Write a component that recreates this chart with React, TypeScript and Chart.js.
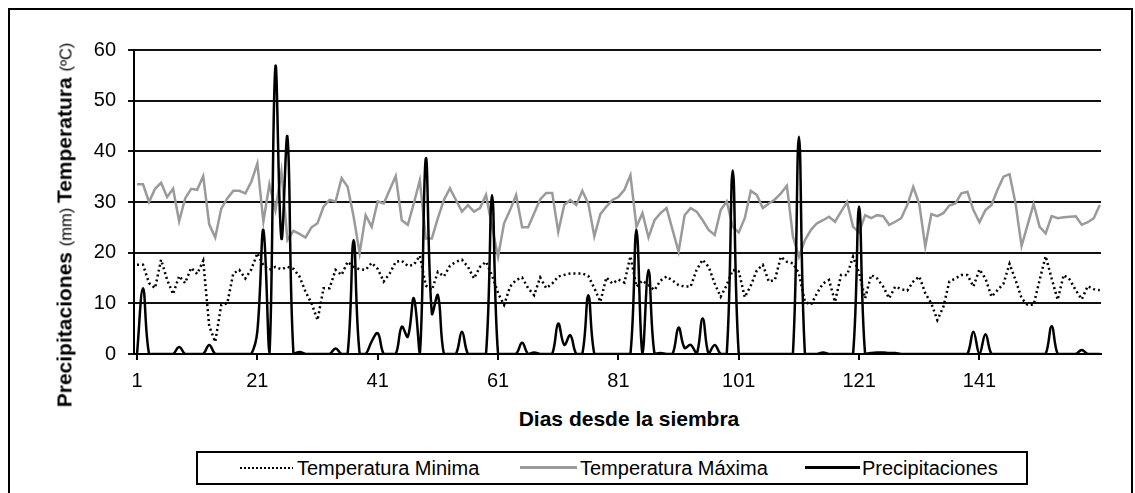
import React, { useEffect, useRef } from 'react';
import { Chart, registerables } from 'chart.js';

Chart.register(...registerables);

const FONT = '"Liberation Sans", Arial, Helvetica, sans-serif';

// Days since sowing (x categories)
const days: number[] = Array.from({ length: 161 }, (_, i) => i + 1);
const xTickValues: number[] = [1, 21, 41, 61, 81, 101, 121, 141];
const yTickValues: number[] = [0, 10, 20, 30, 40, 50, 60];

const tempMin: number[] = [
  17.6, 17.6, 14.0, 13.0, 18.6, 14.7, 11.8, 15.4, 14.0, 17.0,
  15.8, 18.4, 5.5, 2.4, 9.7, 10.0, 15.9, 16.6, 14.9, 16.7,
  19.9, 17.5, 16.6, 17.2, 16.7, 17.2, 16.8, 15.3, 12.3, 10.0,
  6.7, 13.0, 13.0, 16.6, 15.6, 18.2, 17.2, 16.7, 16.6, 18.0,
  16.8, 14.3, 15.9, 18.2, 18.4, 17.4, 17.6, 19.4, 13.5, 12.6,
  16.2, 15.3, 17.4, 18.2, 18.6, 17.2, 14.9, 17.2, 18.2, 15.5,
  12.0, 9.7, 13.3, 14.6, 15.1, 13.0, 11.6, 15.1, 13.0, 13.9,
  15.3, 15.6, 15.9, 15.9, 15.9, 15.4, 13.0, 10.3, 15.1, 13.9,
  14.7, 14.1, 19.3, 13.3, 14.5, 13.6, 12.6, 14.5, 15.3, 14.5,
  13.6, 13.3, 13.3, 16.6, 18.6, 17.2, 13.9, 11.3, 13.6, 16.6,
  16.3, 11.2, 13.5, 16.5, 17.6, 14.3, 14.6, 19.2, 18.2, 17.9,
  15.9, 10.3, 9.7, 12.0, 13.9, 14.6, 10.3, 15.6, 15.6, 19.2,
  16.0, 11.0, 15.6, 14.9, 13.3, 11.0, 13.3, 12.8, 12.5, 14.3,
  15.3, 12.0, 10.0, 6.7, 9.3, 14.3, 14.9, 15.6, 15.6, 13.3,
  16.7, 14.9, 11.3, 12.6, 13.9, 17.8, 14.6, 11.0, 9.7, 9.7,
  14.6, 19.3, 14.9, 10.7, 15.6, 14.7, 12.6, 10.8, 13.4, 12.8, 12.6,
];

const tempMax: number[] = [
  33.5, 33.5, 30.0, 32.6, 33.8, 31.0, 32.6, 26.2, 30.7, 32.6,
  32.4, 35.1, 25.6, 23.0, 28.7, 30.7, 32.2, 32.2, 31.7, 34.0,
  37.6, 26.1, 33.5, 28.4, 36.0, 22.5, 24.3, 23.7, 23.0, 25.0,
  25.8, 29.1, 30.4, 30.1, 34.7, 33.0, 27.1, 19.9, 27.4, 25.1,
  30.1, 29.7, 32.4, 35.1, 26.4, 25.5, 29.7, 34.3, 22.8, 22.8,
  26.8, 30.4, 32.7, 30.4, 28.1, 29.4, 28.1, 28.8, 31.4, 25.1,
  19.2, 25.8, 28.4, 31.4, 25.0, 25.0, 27.8, 30.5, 31.8, 31.8,
  24.1, 29.4, 30.4, 29.4, 32.2, 29.7, 23.2, 27.6, 29.1, 30.4,
  31.0, 32.4, 35.3, 25.1, 27.8, 23.0, 26.4, 27.8, 28.8, 24.5,
  20.2, 27.4, 28.8, 28.1, 26.4, 24.5, 23.5, 28.4, 30.1, 25.1,
  24.0, 26.8, 32.2, 31.4, 28.8, 29.7, 30.5, 31.7, 33.2, 23.2,
  19.2, 22.5, 24.5, 25.8, 26.4, 27.1, 26.1, 28.1, 30.0, 25.1,
  24.0, 27.4, 26.8, 27.4, 27.2, 25.5, 26.1, 26.8, 29.4, 33.0,
  29.6, 21.2, 27.6, 27.2, 27.8, 29.3, 29.7, 31.7, 32.0, 28.4,
  26.0, 28.4, 29.4, 32.4, 35.0, 35.5, 29.7, 21.3, 25.5, 29.6,
  25.1, 23.8, 27.2, 26.8, 27.0, 27.1, 27.2, 25.5, 26.0, 26.8, 29.4,
];

const precip: number[] = [
  0, 13.0, 0, 0, 0, 0, 0, 1.4, 0, 0,
  0, 0, 1.8, 0, 0, 0, 0, 0, 0, 0,
  4.5, 24.5, 0, 56.7, 22.8, 42.8, 0, 0.4, 0, 0,
  0, 0, 0, 1.1, 0, 0, 22.5, 0, 0, 2.5,
  4.1, 0, 0, 0, 5.4, 3.4, 11.0, 0, 38.6, 8.0,
  11.6, 0, 0, 0, 4.4, 0, 0, 0, 0, 31.4,
  0, 0, 0, 0, 2.2, 0, 0.3, 0, 0, 0,
  6.0, 1.8, 3.7, 0, 0, 11.6, 0, 0, 0, 0,
  0, 0, 0, 24.5, 0, 16.6, 0, 0.2, 0, 0,
  5.2, 1.2, 1.8, 0, 7.0, 0, 1.8, 0, 0, 36.2,
  0, 0, 0, 0, 0, 0, 0, 0, 0, 0,
  42.9, 0, 0, 0, 0.3, 0, 0, 0, 0, 0,
  29.1, 0, 0.2, 0.3, 0.3, 0.2, 0.2, 0, 0, 0,
  0, 0, 0, 0, 0, 0, 0, 0, 0, 4.4,
  0, 3.9, 0, 0, 0, 0, 0, 0, 0, 0,
  0, 0, 5.5, 0, 0, 0, 0, 0.8, 0, 0, 0,
];

const seriesNames: string[] = ['Temperatura Minima', 'Temperatura Máxima', 'Precipitaciones'];
const xTitle = 'Dias desde la siembra';

const toPoints = (arr: number[]) => arr.map((v, i) => ({ x: days[i], y: v }));

export default function App() {
  const ref = useRef<HTMLCanvasElement>(null);

  useEffect(() => {
    if (!ref.current) return;
    const chart = new Chart(ref.current, {
      type: 'line',
      data: {
        datasets: [
          {
            label: seriesNames[0],
            data: toPoints(tempMin),
            borderColor: '#000',
            borderWidth: 2.5,
            borderDash: [2, 3],
            pointRadius: 0,
            tension: 0,
            order: 1,
            clip: 2,
          },
          {
            label: seriesNames[1],
            data: toPoints(tempMax),
            borderColor: '#9a9a9a',
            borderWidth: 2.5,
            pointRadius: 0,
            tension: 0,
            order: 2,
            clip: 2,
          },
          {
            label: seriesNames[2],
            data: toPoints(precip),
            borderColor: '#000',
            borderWidth: 2.5,
            pointRadius: 0,
            tension: 0.4,
            order: 0,
            clip: { left: 2, right: 2, top: 2, bottom: 0 },
          },
        ] as any,
      },
      options: {
        animation: false,
        responsive: false,
        maintainAspectRatio: false,
        layout: { padding: { left: 0, top: 50, right: 34, bottom: 0 } },
        plugins: { legend: { display: false }, tooltip: { enabled: false } },
        scales: {
          x: {
            type: 'linear',
            min: 0.5,
            max: 161.2,
            afterBuildTicks: (scale: any) => {
              scale.ticks = xTickValues.map((v) => ({ value: v }));
            },
            afterFit: (scale: any) => {
              scale.height = 46;
            },
            grid: {
              display: true,
              drawOnChartArea: false,
              drawTicks: true,
              tickLength: 6,
              color: '#000',
              lineWidth: 2,
            },
            border: { display: true, color: '#000', width: 2 },
            ticks: {
              autoSkip: false,
              maxRotation: 0,
              padding: 9,
              color: '#000',
              font: { family: FONT, size: 20 },
              callback: (v: any) => String(v),
            },
          },
          y: {
            type: 'linear',
            min: 0,
            max: 60,
            afterBuildTicks: (scale: any) => {
              scale.ticks = yTickValues.map((v) => ({ value: v }));
            },
            afterFit: (scale: any) => {
              scale.width = 134;
            },
            grid: {
              display: true,
              drawTicks: true,
              tickLength: 6,
              color: '#111',
              lineWidth: 2,
            },
            border: { display: true, color: '#000', width: 2 },
            ticks: {
              padding: 12,
              color: '#000',
              font: { family: FONT, size: 20 },
            },
          },
        },
      } as any,
    });
    return () => chart.destroy();
  }, []);

  const bold: React.CSSProperties = { fontWeight: 'bold', fontSize: 21 };
  const small: React.CSSProperties = { fontWeight: 'normal', fontSize: 16.5 };

  return (
    <div
      style={{
        position: 'fixed',
        left: 0,
        top: 0,
        width: 1135,
        height: 493,
        overflow: 'hidden',
        background: '#fff',
        fontFamily: FONT,
        color: '#000',
      }}
    >
      <div
        style={{
          position: 'absolute',
          left: 8,
          top: 8,
          width: 1125,
          height: 600,
          border: '2px solid #000',
          boxSizing: 'border-box',
        }}
      />
      <canvas
        ref={ref}
        width={1135}
        height={400}
        style={{ position: 'absolute', left: 0, top: 0, width: 1135, height: 400, display: 'block' }}
      />
      <div
        style={{
          position: 'absolute',
          left: 64,
          top: 225,
          transform: 'translate(-50%, -50%) rotate(-90deg)',
          whiteSpace: 'nowrap',
          lineHeight: 1,
        }}
      >
        <span style={bold}>Precipitaciones </span>
        <span style={small}>(mm) </span>
        <span style={bold}>Temperatura </span>
        <span style={small}>(ºC)</span>
      </div>
      <div
        style={{
          position: 'absolute',
          left: 629,
          top: 418,
          transform: 'translate(-50%, -50%)',
          whiteSpace: 'nowrap',
          fontWeight: 'bold',
          fontSize: 21,
          lineHeight: 1,
        }}
      >
        {xTitle}
      </div>
      <div
        style={{
          position: 'absolute',
          left: 196,
          top: 451,
          width: 832,
          height: 34,
          border: '2px solid #000',
          boxSizing: 'border-box',
          fontSize: 20,
        }}
      >
        <div style={{ position: 'absolute', left: 42, top: 14, width: 53, height: 2,
          background: 'repeating-linear-gradient(to right, #000 0 2px, transparent 2px 4px)' }} />
        <div style={{ position: 'absolute', left: 99, top: 15, transform: 'translateY(-50%)', whiteSpace: 'nowrap', lineHeight: 1 }}>
          {seriesNames[0]}
        </div>
        <div style={{ position: 'absolute', left: 322, top: 13, width: 57, height: 3, background: '#9a9a9a' }} />
        <div style={{ position: 'absolute', left: 382, top: 15, transform: 'translateY(-50%)', whiteSpace: 'nowrap', lineHeight: 1 }}>
          {seriesNames[1]}
        </div>
        <div style={{ position: 'absolute', left: 607, top: 13, width: 55, height: 3, background: '#000' }} />
        <div style={{ position: 'absolute', left: 664, top: 15, transform: 'translateY(-50%)', whiteSpace: 'nowrap', lineHeight: 1 }}>
          {seriesNames[2]}
        </div>
      </div>
    </div>
  );
}
